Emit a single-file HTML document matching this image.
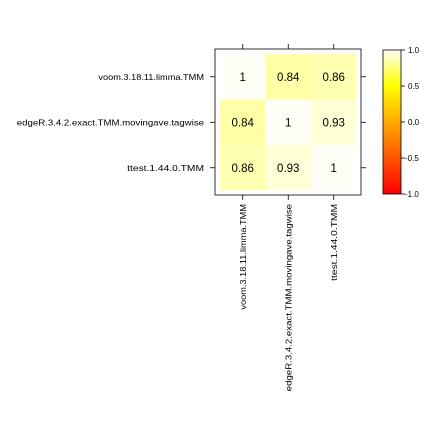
<!DOCTYPE html>
<html><head><meta charset="utf-8"><style>
body{margin:0;background:#fff}
svg{display:block;font-family:"Liberation Sans",sans-serif}
</style></head><body>
<svg id="c" width="432" height="432" viewBox="0 0 432 432"></svg>
<script>
const labels=["voom.3.18.11.limma.TMM","edgeR.3.4.2.exact.TMM.movingave.tagwise","ttest.1.44.0.TMM"];
const rowVals=[[1,0.84,0.86],[0.84,1,0.93],[0.86,0.93,1]];
const barTicks=[1.0,0.5,0.0,-0.5,-1.0];
const barTickLabels=["1.0","0.5","0.0","-0.5","-1.0"];
const NS="http://www.w3.org/2000/svg";
const svg=document.getElementById('c');
function el(t,a,txt){const e=document.createElementNS(NS,t);for(const k in a)e.setAttribute(k,a[k]);if(txt!==undefined)e.textContent=txt;svg.appendChild(e);return e;}
const x0=215,y0=49,W=146,cell=45.5,pad=5;
const cx=i=>x0+pad+cell*i+cell/2, cy=i=>y0+pad+cell*i+cell/2;
const charW=4.8;
function heat(v){
  let t=(v+1)/2;
  if(t<0.75){const g=Math.round(255*t/0.75);return `rgb(255,${g},0)`;}
  const b=Math.round(255*(t-0.75)/0.25*0.97);return `rgb(255,255,${b})`;
}
const defs=el('defs',{});
const g=document.createElementNS(NS,'linearGradient');g.setAttribute('id','hg');g.setAttribute('x1','0');g.setAttribute('y1','1');g.setAttribute('x2','0');g.setAttribute('y2','0');defs.appendChild(g);
for(let k=0;k<=20;k++){const v=-1+k/10;const s=document.createElementNS(NS,'stop');s.setAttribute('offset',k/20);s.setAttribute('stop-color',heat(v));g.appendChild(s);}
rowVals.forEach((row,r)=>row.forEach((v,c)=>{
  const rc=el('rect',{x:cx(c)-cell/2,y:cy(r)-cell/2,width:cell,height:cell,fill:heat(v)});
  
  
  const t=el('text',{x:cx(c),y:cy(r)+4,'font-size':11.5,'text-anchor':'middle',fill:'#000'},String(v));
  
  
}));
const box=el('rect',{x:x0,y:y0,width:W,height:W,fill:'none',stroke:'#000','stroke-width':0.8});


labels.forEach((lab,i)=>{
  el('line',{x1:cx(i),x2:cx(i),y1:y0-5,y2:y0,stroke:'#000','stroke-width':0.8});
  el('line',{x1:cx(i),x2:cx(i),y1:y0+W,y2:y0+W+5,stroke:'#000','stroke-width':0.8});
  el('line',{x1:x0-5,x2:x0,y1:cy(i),y2:cy(i),stroke:'#000','stroke-width':0.8});
  el('line',{x1:x0+W,x2:x0+W+5,y1:cy(i),y2:cy(i),stroke:'#000','stroke-width':0.8});
  const len=lab.length*charW;
  const yl=el('text',{x:x0-11,y:cy(i)+3,'font-size':8.3,'text-anchor':'end',fill:'#000',textLength:len,lengthAdjust:'spacingAndGlyphs'},lab);
  
  
  const px=cx(i)+3, py=y0+W+9;
  const xl=el('text',{x:px,y:py,'font-size':8.3,'text-anchor':'end',fill:'#000',textLength:len,lengthAdjust:'spacingAndGlyphs',transform:`rotate(-90 ${px} ${py})`},lab);
  
  
});
const bx=383,by=50,bw=18,bh=144;
const cb=el('rect',{x:bx,y:by,width:bw,height:bh,fill:'url(#hg)',stroke:'#000','stroke-width':0.8});


const by2=v=>by+bh*(1-v)/2;
barTicks.forEach((v,i)=>{
  el('line',{x1:bx+bw,x2:bx+bw+4,y1:by2(v),y2:by2(v),stroke:'#000','stroke-width':0.8});
  const t=el('text',{x:bx+bw+(v<0?4:7),y:by2(v)+3,'font-size':8,fill:'#000'},barTickLabels[i]);
  
  
});
</script>
</body></html>
